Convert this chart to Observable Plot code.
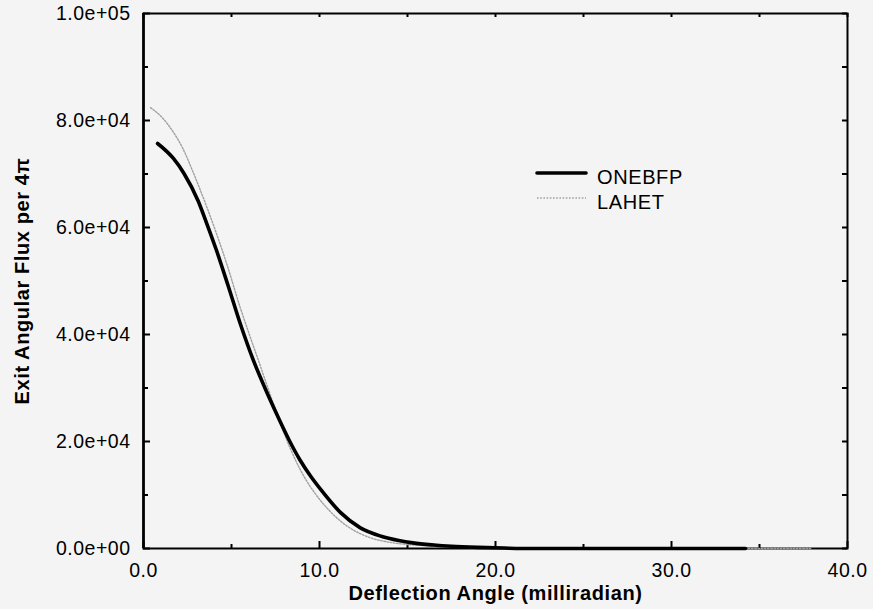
<!DOCTYPE html>
<html>
<head>
<meta charset="utf-8">
<script src="https://cdn.jsdelivr.net/npm/d3@7"></script>
<script src="https://cdn.jsdelivr.net/npm/@observablehq/plot@0.6"></script>
<style>
  html, body { margin: 0; padding: 0; background: #f4f4f4; }
  #chart { width: 873px; height: 609px; }
  #chart svg g[aria-label="x-axis tick label"] text,
  #chart svg g[aria-label="y-axis tick label"] text { letter-spacing: 0.5px; }
  #chart svg g.title text { letter-spacing: 0.6px; }
  #chart svg g.legend text { letter-spacing: 0.6px; }
</style>
</head>
<body>
<div id="chart"></div>
<script>
// Exit angular flux (per 4π) versus deflection angle, two transport codes.
const onebfpAngle = [0.8, 1.7, 2.3, 3.1, 3.6, 4.15, 4.8, 5.5, 6.25, 6.9, 7.6, 8.3, 8.9, 9.5, 10.1, 11.2, 12.3, 13.5, 14.5, 15.3, 16.5, 17.5, 19.0, 20.5, 22.0, 25.0, 30.0, 34.2];
const onebfpFlux  = [75700, 72900, 70100, 65000, 60700, 55700, 49200, 42000, 35100, 30000, 24900, 20100, 16500, 13500, 10900, 6700, 3900, 2300, 1500, 1050, 650, 420, 210, 80, 0, 0, 0, 0];

const lahetAngle = [0.4, 1.1, 1.7, 2.2, 2.85, 3.6, 4.1, 4.75, 5.5, 6.1, 6.65, 7.1, 7.6, 8.1, 8.64, 9.2, 9.77, 10.5, 11.2, 12.0, 12.9, 14.0, 15.2, 16.5, 18.0, 20.0, 22.0, 26.0, 30.0, 34.0, 38.0];
const lahetFlux  = [82400, 80400, 77800, 75000, 70100, 63800, 59300, 53000, 45000, 39200, 34000, 29700, 25000, 20600, 16500, 13000, 10200, 7300, 5100, 3300, 2000, 1150, 700, 450, 250, 100, 0, 0, 0, 0, 0];

// Axis ticks and their printed labels
const xMajorTicks = [0, 10, 20, 30, 40];
const xMinorTicks = [5, 15, 25, 35];
const xTickLabels = ["0.0", "10.0", "20.0", "30.0", "40.0"];
const yMajorTicks = [0, 20000, 40000, 60000, 80000, 100000];
const yMinorTicks = [10000, 30000, 50000, 70000, 90000];
const yTickLabels = ["0.0e+00", "2.0e+04", "4.0e+04", "6.0e+04", "8.0e+04", "1.0e+05"];

const xTitle = "Deflection Angle (milliradian)";
const yTitle = "Exit Angular Flux per 4π";

const seriesNames = ["ONEBFP", "LAHET"];

const onebfp = onebfpAngle.map((a, i) => ({angle: a, flux: onebfpFlux[i]}));
const lahet = lahetAngle.map((a, i) => ({angle: a, flux: lahetFlux[i]}));

const W = 873, H = 609;
const mL = 143, mR = 26, mT = 13, mB = 61;
const plotW = W - mL - mR, plotH = H - mT - mB;

const lahetStyle = {stroke: "#a0a0a0", strokeWidth: 1.4, strokeDasharray: "1.6 1.6"};
const onebfpStyle = {stroke: "#000", strokeWidth: 3.6, strokeLinecap: "round", strokeLinejoin: "round"};

const chart = Plot.plot({
  width: W,
  height: H,
  marginLeft: mL,
  marginRight: mR,
  marginTop: mT,
  marginBottom: mB,
  style: {background: "#f4f4f4", fontFamily: "'Liberation Sans', Arial, Helvetica, sans-serif", color: "#000", overflow: "visible"},
  x: {domain: [0, 40]},
  y: {domain: [0, 100000]},
  marks: [
    Plot.axisX({ticks: xMajorTicks, tickFormat: (d, i) => xTickLabels[i], tickSize: 0, tickPadding: 15, fontSize: 19.5, label: null}),
    Plot.axisY({ticks: yMajorTicks, tickFormat: (d, i) => yTickLabels[i], tickSize: 0, tickPadding: 13, fontSize: 19.5, label: null}),
    // inward ticks on all four sides
    Plot.tickX(xMajorTicks, {x: d => d, insetTop: plotH - 7, strokeWidth: 2}),
    Plot.tickX(xMinorTicks, {x: d => d, insetTop: plotH - 4, strokeWidth: 2}),
    Plot.tickX(xMajorTicks.concat(xMinorTicks), {x: d => d, insetBottom: plotH - 4, strokeWidth: 2}),
    Plot.tickY(yMajorTicks, {y: d => d, insetRight: plotW - 7, strokeWidth: 2}),
    Plot.tickY(yMinorTicks, {y: d => d, insetRight: plotW - 5, strokeWidth: 2}),
    Plot.tickY(yMajorTicks.concat(yMinorTicks), {y: d => d, insetLeft: plotW - 5, strokeWidth: 2}),
    Plot.frame({stroke: "#000", strokeWidth: 2}),
    Plot.ruleX([0], {stroke: "#000", strokeWidth: 2.6}),
    Plot.lineY(lahet, {x: "angle", y: "flux", curve: "monotone-x", ...lahetStyle}),
    Plot.lineY(onebfp, {x: "angle", y: "flux", curve: "monotone-x", ...onebfpStyle}),
    Plot.text([xTitle], {frameAnchor: "bottom", dy: 45, lineAnchor: "middle", textAnchor: "middle", fontSize: 20, fontWeight: "bold", className: "title"}),
    Plot.text([yTitle], {frameAnchor: "left", dx: -121, rotate: -90, lineAnchor: "middle", textAnchor: "middle", fontSize: 20, fontWeight: "bold", className: "title"})
  ]
});

// Legend inside the plot area
const svg = d3.select(chart);
const legendStyles = [onebfpStyle, lahetStyle];
const legend = svg.append("g").attr("class", "legend")
  .attr("font-family", "'Liberation Sans', Arial, Helvetica, sans-serif")
  .attr("font-size", 20)
  .attr("text-anchor", "start");
seriesNames.forEach((name, i) => {
  const row = legend.append("g").attr("transform", `translate(537, ${173 + i * 25})`);
  const s = legendStyles[i];
  row.append("line")
    .attr("x1", 0).attr("x2", 49).attr("y1", 0).attr("y2", 0)
    .attr("stroke", s.stroke)
    .attr("stroke-width", s.strokeWidth)
    .attr("stroke-dasharray", s.strokeDasharray || null)
    .attr("stroke-linecap", s.strokeLinecap || null);
  row.append("text")
    .attr("x", 60).attr("y", 4.5)
    .attr("dy", "0.32em")
    .attr("text-anchor", "start")
    .attr("fill", "#000")
    .text(name);
});

document.getElementById("chart").appendChild(chart);
</script>
</body>
</html>
